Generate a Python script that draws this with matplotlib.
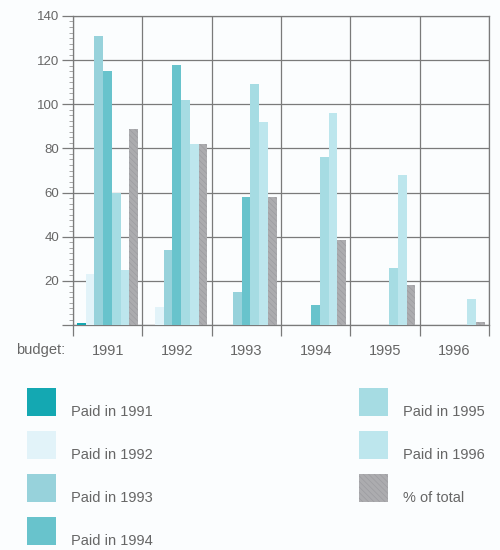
import numpy as np
import matplotlib
matplotlib.use("Agg")
import matplotlib.pyplot as plt
from matplotlib.patches import Rectangle

plt.rcParams['font.family'] = ['Liberation Sans', 'DejaVu Sans']
plt.rcParams['hatch.linewidth'] = 0.5

# ----------------------
# data
# ----------------------
budget_years = ["1991", "1992", "1993", "1994", "1995", "1996"]

paid_1991 = [1, np.nan, np.nan, np.nan, np.nan, np.nan]
paid_1992 = [23, 8, np.nan, np.nan, np.nan, np.nan]
paid_1993 = [131, 34, 15, np.nan, np.nan, np.nan]
paid_1994 = [115, 118, 58, 9, np.nan, np.nan]
paid_1995 = [60, 102, 109, 76, 26, np.nan]
paid_1996 = [25, 82, 92, 96, 68, 12]
pct_total = [89, 82, 58, 38.5, 18, 1.5]

series_labels = ["Paid in 1991", "Paid in 1992", "Paid in 1993", "Paid in 1994",
                 "Paid in 1995", "Paid in 1996", "% of total"]
series = [paid_1991, paid_1992, paid_1993, paid_1994, paid_1995, paid_1996, pct_total]
colors = ["#14a8b2", "#e2f3f9", "#97d2db", "#68c3cc", "#a6dce3", "#bde6ed", "#acacaf"]
hatch_col = "#9c9ca0"

txt_col = "#666666"
grid_col = "#7a7a7a"
bg = "#fbfdfe"

# ----------------------
# plot
# ----------------------
fig = plt.figure(figsize=(5, 5.5), dpi=100, facecolor=bg)
ax = fig.add_axes([0.146, 0.409, 0.832, 0.562])
ax.set_facecolor(bg)

x = np.arange(len(budget_years))
w = 0.1255
off = 0.058

for i, (vals, c) in enumerate(zip(series, colors)):
    if i == 6:
        ax.bar(x + off + i * w, vals, width=w, align="edge", color=c,
               edgecolor=hatch_col, linewidth=0, hatch="\\\\\\\\\\\\", zorder=3)
    else:
        ax.bar(x + off + i * w, vals, width=w, align="edge", color=c,
               linewidth=0, zorder=3)

ax.set_xlim(0, 6)
ax.set_ylim(0, 140)

# grid
ax.set_xticks(np.arange(0, 7))
ax.set_xticklabels([])
ax.set_xticks(x + 0.5, minor=True)
ax.set_xticklabels(budget_years, minor=True, fontsize=10.5, color=txt_col)
ax.tick_params(axis="x", which="major", length=8, width=0.9, color=grid_col)
ax.tick_params(axis="x", which="minor", length=0, pad=14)

ax.set_yticks(np.arange(0, 141, 20))
ax.set_yticklabels([""] + [str(v) for v in range(20, 141, 20)], fontsize=9.5, color=txt_col)
ax.set_yticks(np.arange(0, 140, 2.5), minor=True)
ax.tick_params(axis="y", which="major", length=8, width=0.9, color=grid_col, pad=2)
ax.tick_params(axis="y", which="minor", length=3, width=0.6, color="#999999")

ax.grid(True, which="major", color=grid_col, linewidth=0.9, zorder=1)
for s in ax.spines.values():
    s.set_color(grid_col)
    s.set_linewidth(0.9)

fig.text(0.13, 1 - 350 / 550, "budget:", ha="right", va="center",
         fontsize=10.5, color=txt_col)

# ----------------------
# legend
# ----------------------
left_rows = [0, 1, 2, 3]
right_rows = [4, 5, 6]
row_y = [388, 431, 474, 517]
for col_x, tx, idxs in [(27, 71, left_rows), (359, 403, right_rows)]:
    for r, i in enumerate(idxs):
        y0 = row_y[r]
        kw = dict(facecolor=colors[i], linewidth=0, transform=fig.transFigure)
        if i == 6:
            kw.update(edgecolor=hatch_col, hatch="\\\\\\\\\\\\")
        fig.patches.append(Rectangle((col_x / 500, 1 - (y0 + 28) / 550),
                                     29 / 500, 28 / 550, **kw))
        fig.text(tx / 500, 1 - (y0 + 24) / 550, series_labels[i], ha="left",
                 va="center", fontsize=10.5, color=txt_col)

fig.savefig("out.png", dpi=100, facecolor=bg)
